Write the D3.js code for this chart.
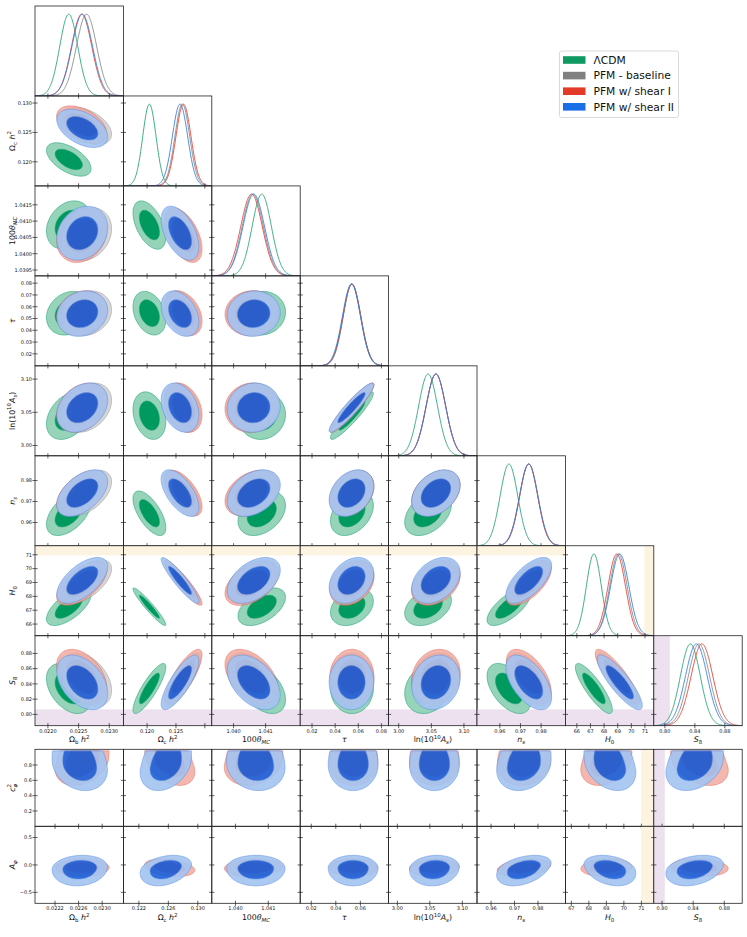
<!DOCTYPE html>
<html><head><meta charset="utf-8">
<script src="https://cdn.jsdelivr.net/npm/d3@7"></script>
<style>body{margin:0;background:#fff}svg{display:block}text{font-family:"DejaVu Sans",sans-serif;fill:#111}</style>
</head><body><svg id="c" width="747" height="937"></svg>
<script>
// ================= DATA =================
const setNames = ["ΛCDM", "PFM - baseline", "PFM w/ shear I", "PFM w/ shear II"];
const legendColors = ["#0f9a63", "#808080", "#e33b29", "#1a6fe6"];
const outerFill = ["#96d4ba", "#cdcdcd", "#f2a69b", "#a4c4f1"];
const innerFill = ["#009a5e", "#8a8a8a", "#e3402d", "#1a60da"];
const lineColor = ["#25a57a", "#8c8c8c", "#df5b4e", "#5b8fe3"];
const line1D = ["#2aa57c", "#8a8a8a", "#e0473a", "#3a7fe3"];
const fillAlpha = [1, 0.8, 0.8, 0.9];

// parameter labels: [text, style]
const paramLabels = [
  [["Ω", ""], ["b", "sub"], [" ", ""], ["h", "i"], ["2", "sup"]],
  [["Ω", ""], ["c", "sub"], [" ", ""], ["h", "i"], ["2", "sup"]],
  [["100", ""], ["θ", "i"], ["MC", "isub"]],
  [["τ", "i"]],
  [["ln(10", ""], ["10", "sup"], ["A", "i"], ["s", "isub"], [")", ""]],
  [["n", "i"], ["s", "isub"]],
  [["H", "i"], ["0", "sub"]],
  [["S", "i"], ["8", "sub"]]
];
const rangeLo = [0.02179, 0.1159, 1.03932, 0.0098, 2.9845, 0.9489, 65.16, 0.7852];
const rangeHi = [0.02323, 0.1312, 1.04208, 0.0862, 3.1200, 0.9918, 71.65, 0.9032];
const xTicks = [[0.0220, 0.0225, 0.0230], [0.120, 0.125, 0.130], [1.040, 1.041], [0.02, 0.04, 0.06, 0.08],
  [3.00, 3.05, 3.10], [0.96, 0.97, 0.98], [66, 67, 68, 69, 70, 71], [0.80, 0.84, 0.88]];
const xTickLabels = [[0.0220, 0.0225, 0.0230], [0.120, 0.125], [1.040, 1.041], [0.02, 0.04, 0.06, 0.08],
  [3.00, 3.05, 3.10], [0.96, 0.97, 0.98], [66, 67, 68, 69, 70, 71], [0.80, 0.84, 0.88]];
const yTicks = [[], [0.120, 0.125, 0.130], [1.0395, 1.0400, 1.0405, 1.0410, 1.0415],
  [0.02, 0.03, 0.04, 0.05, 0.06, 0.07, 0.08], [3.00, 3.05, 3.10], [0.96, 0.97, 0.98],
  [66, 67, 68, 69, 70, 71], [0.80, 0.82, 0.84, 0.86, 0.88]];
const xFmt = [".4f", ".3f", ".3f", ".2f", ".2f", ".2f", "d", ".2f"];
const yFmt = [".4f", ".3f", ".4f", ".2f", ".2f", ".2f", "d", ".2f"];

// posterior summaries (mean, sigma) per set
const meanLCDM    = [0.02234, 0.1204, 1.04088, 0.0545, 3.045, 0.9644, 67.25, 0.834];
const meanBase    = [0.02263, 0.1261, 1.04060, 0.0545, 3.057, 0.9740, 69.05, 0.8455];
const meanShearI  = [0.02255, 0.1263, 1.04056, 0.0545, 3.057, 0.9740, 68.93, 0.8495];
const meanShearII = [0.02256, 0.1257, 1.04063, 0.0541, 3.057, 0.9740, 69.15, 0.8420];
const sigLCDM     = [0.000147, 0.00115, 0.000300, 0.0075, 0.0145, 0.0043, 0.55, 0.0133];
const sigBase     = [0.000165, 0.00128, 0.000330, 0.0077, 0.0150, 0.0044, 0.64, 0.0142];
const sigShearI   = [0.000165, 0.00130, 0.000335, 0.0077, 0.0150, 0.0044, 0.64, 0.0145];
const sigShearII  = [0.000168, 0.00132, 0.000335, 0.0078, 0.0150, 0.0045, 0.67, 0.0145];
// correlation coefficients (row i, column j<i)
const corrLCDM = [
  [],
  [-0.55],
  [0.25, -0.50],
  [0.20, -0.30, 0.05],
  [0.35, -0.25, 0.05, 0.93],
  [0.50, -0.65, 0.35, 0.35, 0.40],
  [0.65, -0.95, 0.50, 0.30, 0.35, 0.70],
  [-0.40, 0.85, -0.45, 0.00, 0.20, -0.50, -0.85]
];
const corrPFM = [
  [],
  [-0.45],
  [0.20, -0.50],
  [0.15, -0.35, 0.05],
  [0.30, -0.30, 0.05, 0.93],
  [0.50, -0.60, 0.35, 0.30, 0.35],
  [0.60, -0.92, 0.45, 0.30, 0.35, 0.65],
  [-0.40, 0.80, -0.45, 0.00, 0.15, -0.55, -0.85]
];

// shaded prior/tension bands
const h0Band = [70.95, 75];
const s8Band = [0.70, 0.8066];

// extra rows (PFM parameters)
const extraLabels = [
  [["c", "i"], ["2", "sup"], ["φ", "isubback"]],
  [["A", "i"], ["φ", "isub"]]
];
const extraLo = [0.0, -0.70];
const extraHi = [1.005, 0.705];
const extraYTicks = [[0.2, 0.4, 0.6, 0.8], [-0.5, 0.0, 0.5]];
const extraXLo = [0.02186, 0.1199, 1.03928, 0.0110, 2.9865, 0.9540, 66.66, 0.7894];
const extraXHi = [0.02336, 0.1319, 1.04197, 0.0830, 3.1226, 0.9917, 71.71, 0.9030];
const extraXTicks = [[0.0222, 0.0226, 0.0230], [0.122, 0.126, 0.130], [1.040, 1.041], [0.02, 0.04, 0.06],
  [3.00, 3.05, 3.10], [0.96, 0.97, 0.98], [67, 68, 69, 70, 71], [0.80, 0.84, 0.88]];
const extraXFmt = [".4f", ".3f", ".3f", ".2f", ".2f", ".2f", "d", ".2f"];
const extraH0Band = [70.98, 75];
const extraS8Band = [0.70, 0.8035];
// red (shear I) and blue (shear II) summaries in the extra rows
const exMeanXRed  = [0.02266, 0.12618, 1.04055, 0.0545, 3.057, 0.9740, 69.00, 0.8480];
const exSigXRed   = [0.000185, 0.00138, 0.00036, 0.0080, 0.0155, 0.0046, 0.59, 0.0150];
const exMeanXBlue = [0.02262, 0.12566, 1.04062, 0.0541, 3.057, 0.9740, 69.20, 0.8420];
const exSigXBlue  = [0.000190, 0.00141, 0.00036, 0.0082, 0.0155, 0.0047, 0.60, 0.0150];
const c2Red  = {mean: 0.83, down: 0.12, up: 0.20};
const c2Blue = {mean: 0.80, down: 0.135, up: 0.20};
const c2Max = 0.985;
const ApRed  = {mean: -0.05, down: 0.065, up: 0.065};
const ApBlue = {mean: -0.06, down: 0.13, up: 0.095};
const exCorrC2Red  = [0.30, -0.40, 0.20, 0.00, 0.00, 0.10, 0.30, -0.35];
const exCorrC2Blue = [-0.20, 0.30, -0.10, 0.00, 0.00, 0.20, -0.30, 0.30];
const exCorrApRed  = [0.00, -0.30, 0.10, 0.00, 0.10, 0.30, 0.10, -0.10];
const exCorrApBlue = [0.10, 0.30, 0.00, 0.00, 0.10, 0.40, -0.30, 0.30];

// ================= LAYOUT =================
const X0 = 35, CW = 88.4, Y0 = 6, RH = 89.96, EY0 = 749.3, EH = 77;
const N = 8;
const TICK = 2.6, TFS = 5.0, LFS = 7.8, YLX = 14.5;
const K68 = 1.52, K95 = 2.47;

const means = [meanLCDM, meanBase, meanShearI, meanShearII];
const sigs = [sigLCDM, sigBase, sigShearI, sigShearII];
const corrs = [corrLCDM, corrPFM, corrPFM, corrPFM];

const svg = d3.select("#c");
const defs = svg.append("defs");
let clipId = 0;

function colX(j) { return X0 + j * CW; }
function rowY(i) { return Y0 + i * RH; }

function shapePts(mx, my, sx, sy, rho, k, yMax) {
  const pts = [];
  const r2 = Math.sqrt(1 - rho * rho);
  for (let a = 0; a < 90; a++) {
    const t = a / 90 * 2 * Math.PI;
    const u = k * Math.cos(t), v = k * Math.sin(t);
    const dx = u, dy = rho * u + r2 * v;
    let y = my + dy * (dy < 0 ? sy[0] : sy[1]);
    if (yMax !== undefined) y = Math.min(y, yMax);
    pts.push([mx + dx * (dx < 0 ? sx[0] : sx[1]), y]);
  }
  return pts;
}

function makeClip(x, y, w, h) {
  const id = "clp" + (clipId++);
  defs.append("clipPath").attr("id", id).append("rect").attr("x", x).attr("y", y).attr("width", w).attr("height", h);
  return "url(#" + id + ")";
}

function addRich(sel, parts, fs) {
  let shift = 0;
  parts.forEach(([t, st]) => {
    const ts = sel.append("tspan").text(t);
    let target = 0, size = fs;
    if (st === "sub" || st === "isub" || st === "isubback") { target = 0.28 * fs; size = 0.7 * fs; }
    if (st === "sup") { target = -0.42 * fs; size = 0.7 * fs; }
    if (st === "i" || st === "isub" || st === "isubback") ts.attr("font-style", "italic");
    ts.attr("font-size", size);
    ts.attr("dy", target - shift);
    if (st === "isubback") ts.attr("dx", -0.45 * fs);
    shift = target;
  });
}

function drawContourSet(g, xs, ys, pts68, pts95, s, opacity) {
  const line = d3.line().x(p => xs(p[0])).y(p => ys(p[1])).curve(d3.curveCatmullRomClosed.alpha(0.5));
  const gg = g.append("g").attr("opacity", opacity);
  gg.append("path").attr("d", line(pts95)).attr("fill", outerFill[s]).attr("stroke", "none");
  gg.append("path").attr("d", line(pts68)).attr("fill", innerFill[s]).attr("stroke", "none");
  gg.append("path").attr("d", line(pts95)).attr("fill", "none").attr("stroke", lineColor[s]).attr("stroke-width", 0.6);
  gg.append("path").attr("d", line(pts68)).attr("fill", "none").attr("stroke", lineColor[s]).attr("stroke-width", 0.5);
}

function ticksBottom(g, xs, ticks, y) {
  ticks.forEach(t => {
    g.append("line").attr("x1", xs(t)).attr("x2", xs(t)).attr("y1", y - TICK).attr("y2", y + TICK)
      .attr("stroke", "#222").attr("stroke-width", 0.7);
  });
}
function ticksLeft(g, ys, ticks, x) {
  ticks.forEach(t => {
    g.append("line").attr("x1", x - TICK).attr("x2", x + TICK).attr("y1", ys(t)).attr("y2", ys(t))
      .attr("stroke", "#222").attr("stroke-width", 0.7);
  });
}
function xLabels(g, xs, ticks, fmt, y) {
  const f = d3.format(fmt);
  ticks.forEach(t => g.append("text").attr("x", xs(t)).attr("y", y).attr("text-anchor", "middle")
    .attr("font-size", TFS).text(f(t)));
}
function yLabels(g, ys, ticks, fmt, x) {
  const f = d3.format(fmt);
  ticks.forEach(t => g.append("text").attr("x", x).attr("y", ys(t) + TFS * 0.36).attr("text-anchor", "end")
    .attr("font-size", TFS).text(f(t)));
}

const root = svg.append("g");
const xScales = d3.range(N).map(j => d3.scaleLinear().domain([rangeLo[j], rangeHi[j]]).range([colX(j), colX(j) + CW]));
const yScales = d3.range(N).map(i => d3.scaleLinear().domain([rangeLo[i], rangeHi[i]]).range([rowY(i) + RH, rowY(i)]));

// ---------- triangle ----------
for (let i = 0; i < N; i++) {
  for (let j = 0; j <= i; j++) {
    const x = colX(j), y = rowY(i);
    const g = root.append("g");
    const inner = g.append("g").attr("clip-path", makeClip(x, y, CW, RH));
    const xs = xScales[j];
    if (i === j) {
      const ys = d3.scaleLinear().domain([0, 1.1]).range([y + RH, y]);
      if (i === 6) inner.append("rect").attr("x", xs(h0Band[0])).attr("y", y).attr("width", xs(h0Band[1]) - xs(h0Band[0])).attr("height", RH).attr("fill", "#fdf3e1");
      if (i === 7) inner.append("rect").attr("x", xs(s8Band[0])).attr("y", y).attr("width", xs(s8Band[1]) - xs(s8Band[0])).attr("height", RH).attr("fill", "#ede1f0");
      const grid = d3.range(0, 201).map(k => rangeLo[i] + (rangeHi[i] - rangeLo[i]) * k / 200);
      for (let s = 0; s < 4; s++) {
        const m = means[s][i], sd = sigs[s][i];
        const line = d3.line().x(v => xs(v)).y(v => ys(Math.exp(-0.5 * ((v - m) / sd) ** 2)));
        inner.append("path").attr("d", line(grid)).attr("fill", "none").attr("stroke", line1D[s]).attr("stroke-width", 0.9);
      }
      if (i > 0) ticksLeft(g, yScales[i], yTicks[i], x);
    } else {
      const ys = yScales[i];
      if (i === 6) inner.append("rect").attr("x", x).attr("y", ys(h0Band[1])).attr("width", CW).attr("height", ys(h0Band[0]) - ys(h0Band[1])).attr("fill", "#fdf3e1");
      if (i === 7) inner.append("rect").attr("x", x).attr("y", ys(s8Band[1])).attr("width", CW).attr("height", ys(s8Band[0]) - ys(s8Band[1])).attr("fill", "#ede1f0");
      for (let s = 0; s < 4; s++) {
        const rho = corrs[s][i][j];
        const mx = means[s][j], my = means[s][i], sx = sigs[s][j], sy = sigs[s][i];
        const p68 = shapePts(mx, my, [sx, sx], [sy, sy], rho, K68);
        const p95 = shapePts(mx, my, [sx, sx], [sy, sy], rho, K95);
        drawContourSet(inner, xs, ys, p68, p95, s, fillAlpha[s]);
      }
      ticksLeft(g, ys, yTicks[i], x);
    }
    ticksBottom(g, xs, xTicks[j], y + RH);
    g.append("rect").attr("x", x).attr("y", y).attr("width", CW).attr("height", RH)
      .attr("fill", "none").attr("stroke", "#222").attr("stroke-width", 0.8);
    if (j === 0 && i > 0) {
      yLabels(g, yScales[i], yTicks[i], yFmt[i], x - 3);
      const t = g.append("text").attr("transform", `translate(${YLX},${y + RH / 2}) rotate(-90)`).attr("text-anchor", "middle").attr("font-size", LFS);
      addRich(t, paramLabels[i], LFS);
    }
    if (i === N - 1) {
      xLabels(g, xs, xTickLabels[j], xFmt[j], y + RH + 7.0);
      const t = g.append("text").attr("x", x + CW / 2).attr("y", y + RH + 16.5).attr("text-anchor", "middle").attr("font-size", LFS);
      addRich(t, paramLabels[j], LFS);
    }
  }
}

// ---------- extra rows ----------
const exSets = [
  {s: 2, mx: exMeanXRed, sx: exSigXRed, yp: [c2Red, ApRed], corr: [exCorrC2Red, exCorrApRed]},
  {s: 3, mx: exMeanXBlue, sx: exSigXBlue, yp: [c2Blue, ApBlue], corr: [exCorrC2Blue, exCorrApBlue]}
];
for (let k = 0; k < 2; k++) {
  const y = EY0 + k * EH;
  const ys = d3.scaleLinear().domain([extraLo[k], extraHi[k]]).range([y + EH, y]);
  for (let j = 0; j < N; j++) {
    const x = colX(j);
    const xs = d3.scaleLinear().domain([extraXLo[j], extraXHi[j]]).range([x, x + CW]);
    const g = root.append("g");
    const inner = g.append("g").attr("clip-path", makeClip(x, y, CW, EH));
    if (j === 6) inner.append("rect").attr("x", xs(extraH0Band[0])).attr("y", y).attr("width", xs(extraH0Band[1]) - xs(extraH0Band[0])).attr("height", EH).attr("fill", "#fdf3e1");
    if (j === 7) inner.append("rect").attr("x", xs(extraS8Band[0])).attr("y", y).attr("width", xs(extraS8Band[1]) - xs(extraS8Band[0])).attr("height", EH).attr("fill", "#ede1f0");
    exSets.forEach(es => {
      const yp = es.yp[k];
      const rho = es.corr[k][j];
      const yMax = k === 0 ? c2Max : undefined;
      const p68 = shapePts(es.mx[j], yp.mean, [es.sx[j], es.sx[j]], [yp.down, yp.up], rho, K68, yMax);
      const p95 = shapePts(es.mx[j], yp.mean, [es.sx[j], es.sx[j]], [yp.down, yp.up], rho, K95, yMax);
      drawContourSet(inner, xs, ys, p68, p95, es.s, fillAlpha[es.s]);
    });
    ticksLeft(g, ys, extraYTicks[k], x);
    ticksBottom(g, xs, extraXTicks[j], y + EH);
    g.append("rect").attr("x", x).attr("y", y).attr("width", CW).attr("height", EH)
      .attr("fill", "none").attr("stroke", "#222").attr("stroke-width", 0.8);
    if (j === 0) {
      yLabels(g, ys, extraYTicks[k], ".1f", x - 3);
      const t = g.append("text").attr("transform", `translate(${YLX},${y + EH / 2}) rotate(-90)`).attr("text-anchor", "middle").attr("font-size", LFS);
      addRich(t, extraLabels[k], LFS);
    }
    if (k === 1) {
      xLabels(g, xs, extraXTicks[j], extraXFmt[j], y + EH + 7.0);
      const t = g.append("text").attr("x", x + CW / 2).attr("y", y + EH + 16.5).attr("text-anchor", "middle").attr("font-size", LFS);
      addRich(t, paramLabels[j], LFS);
    }
  }
}

// ---------- legend ----------
const lg = svg.append("g").attr("transform", "translate(559.5,51)");
lg.append("rect").attr("width", 119).attr("height", 66.5).attr("rx", 2).attr("fill", "#fff")
  .attr("stroke", "#d0d0d0").attr("stroke-width", 0.8);
setNames.forEach((n, idx) => {
  const yy = 9 + idx * 15.6;
  lg.append("rect").attr("x", 3.5).attr("y", yy - 3.8).attr("width", 22.5).attr("height", 7.6).attr("fill", legendColors[idx]);
  lg.append("text").attr("x", 34).attr("y", yy + 3.8).attr("font-size", 10.7).text(n);
});
</script></body></html>
